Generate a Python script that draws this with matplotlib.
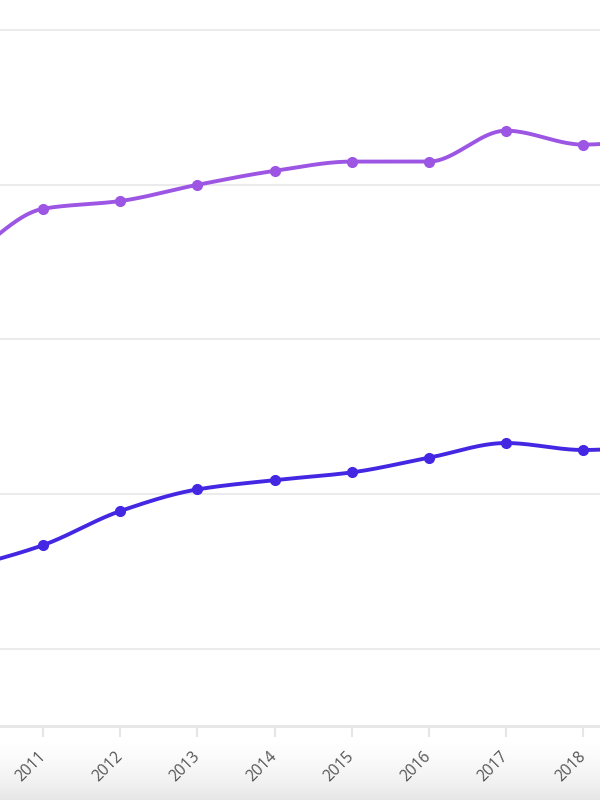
import matplotlib.pyplot as plt
import numpy as np

# values (y units arbitrary, gridlines at 20..100)
years = [2010, 2011, 2012, 2013, 2014, 2015, 2016, 2017, 2018, 2019]
purple = [70.3, 76.9, 77.9, 80.0, 81.8, 83.0, 83.0, 87.0, 85.2, 86.0]
blue = [30.4, 33.4, 37.8, 40.6, 41.8, 42.8, 44.7, 46.6, 45.7, 46.2]
tick_years = [2011, 2012, 2013, 2014, 2015, 2016, 2017, 2018]


def monotone(x, y, n=40):
    # Fritsch-Carlson monotone cubic, like d3 curveMonotoneX
    x = np.asarray(x, float)
    y = np.asarray(y, float)
    h = np.diff(x)
    d = np.diff(y) / h
    m = np.zeros(len(x))
    m[0], m[-1] = d[0], d[-1]
    for i in range(1, len(x) - 1):
        if d[i - 1] * d[i] > 0:
            m[i] = 2 * d[i - 1] * d[i] / (d[i - 1] + d[i])
    xs, ys = [], []
    for i in range(len(x) - 1):
        t = np.linspace(0, 1, n)
        h00 = 2 * t**3 - 3 * t**2 + 1
        h10 = t**3 - 2 * t**2 + t
        h01 = -2 * t**3 + 3 * t**2
        h11 = t**3 - t**2
        xs.append(x[i] + t * h[i])
        ys.append(h00 * y[i] + h10 * h[i] * m[i] + h01 * y[i + 1] + h11 * h[i] * m[i + 1])
    return np.concatenate(xs), np.concatenate(ys)


fig = plt.figure(figsize=(6, 8), dpi=100)
ax = fig.add_axes([0, 0.0925, 1, 0.9075])

for vals, col in [(purple, '#9d55e3'), (blue, '#4327e3')]:
    sx, sy = monotone(years, vals)
    ax.plot(sx, sy, color=col, lw=2.8, solid_capstyle='round', zorder=3)
    ax.plot(years, vals, 'o', color=col, ms=7, zorder=4)

ax.set_xlim(2010.44, 2018.22)
ax.set_ylim(10, 103.9)
ax.set_yticks([20, 40, 60, 80, 100])
ax.yaxis.grid(True, color='#ebebeb', lw=1.5)
ax.set_axisbelow(True)
ax.tick_params(axis='y', left=False, labelleft=False)

ax.set_xticks(tick_years)
ax.set_xticklabels([str(y) for y in tick_years], rotation=45, ha='right',
                   va='center', rotation_mode='anchor', fontsize=11.2,
                   color='#555555', family=['Open Sans', 'DejaVu Sans'])
ax.tick_params(axis='x', length=8, width=1.5, color='#e6e6e6', pad=12)

for s in ['top', 'left', 'right']:
    ax.spines[s].set_visible(False)
ax.spines['bottom'].set_color('#e6e6e6')
ax.spines['bottom'].set_linewidth(2)

# grey shade at the very bottom: white on top, light grey at the edge
grad = np.linspace(0, 1, 100).reshape(-1, 1) ** 1.3
gax = fig.add_axes([0, 0, 1, 0.075], zorder=-1)
gax.imshow(grad, aspect='auto', cmap='Greys', vmin=0, vmax=5.5, extent=[0, 1, 0, 1])
gax.axis('off')

fig.savefig('out.png', dpi=100)
